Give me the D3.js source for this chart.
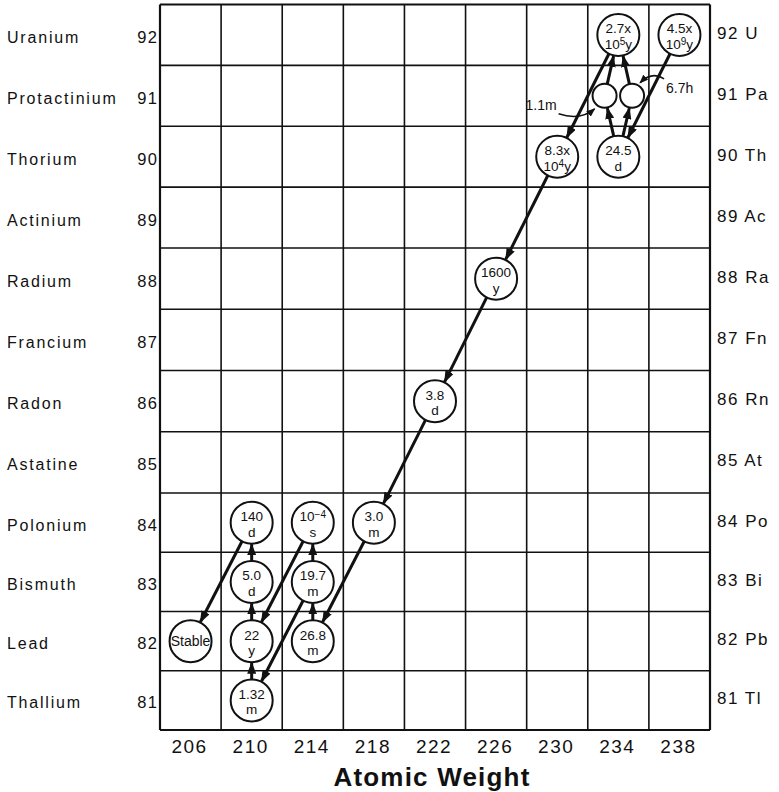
<!DOCTYPE html>
<html>
<head>
<meta charset="utf-8">
<script src="https://cdn.jsdelivr.net/npm/d3@7"></script>
<style>
  body { margin: 0; background: #fff; }
  text { font-family: "Liberation Sans", Arial, sans-serif; fill: #111; }
</style>
</head>
<body>
<div id="chart-area"></div>
<script>
// Datos
const elementNames = ["Uranium", "Protactinium", "Thorium", "Actinium", "Radium", "Francium",
                      "Radon", "Astatine", "Polonium", "Bismuth", "Lead", "Thallium"];
const atomicNumbers = [92, 91, 90, 89, 88, 87, 86, 85, 84, 83, 82, 81];
const symbols = ["U", "Pa", "Th", "Ac", "Ra", "Fn", "Rn", "At", "Po", "Bi", "Pb", "Tl"];
const weightTicks = [206, 210, 214, 218, 222, 226, 230, 234, 238];

// iso: -1 / +1 para los dos estados del Pa-234 (metaestable y fundamental)
const isotopes = [
    { id: "U238",   A: 238, Z: 92, iso: 0,  top: "4.5x",    bottom: "10^9^y" },
    { id: "Th234",  A: 234, Z: 90, iso: 0,  top: "24.5",    bottom: "d" },
    { id: "Pa234m", A: 234, Z: 91, iso: -1, top: "",        bottom: "" },
    { id: "Pa234",  A: 234, Z: 91, iso: 1,  top: "",        bottom: "" },
    { id: "U234",   A: 234, Z: 92, iso: 0,  top: "2.7x",    bottom: "10^5^y" },
    { id: "Th230",  A: 230, Z: 90, iso: 0,  top: "8.3x",    bottom: "10^4^y" },
    { id: "Ra226",  A: 226, Z: 88, iso: 0,  top: "1600",    bottom: "y" },
    { id: "Rn222",  A: 222, Z: 86, iso: 0,  top: "3.8",     bottom: "d" },
    { id: "Po218",  A: 218, Z: 84, iso: 0,  top: "3.0",     bottom: "m" },
    { id: "Pb214",  A: 214, Z: 82, iso: 0,  top: "26.8",    bottom: "m" },
    { id: "Bi214",  A: 214, Z: 83, iso: 0,  top: "19.7",    bottom: "m" },
    { id: "Po214",  A: 214, Z: 84, iso: 0,  top: "10^\u22124^", bottom: "s" },
    { id: "Tl210",  A: 210, Z: 81, iso: 0,  top: "1.32",    bottom: "m" },
    { id: "Pb210",  A: 210, Z: 82, iso: 0,  top: "22",      bottom: "y" },
    { id: "Bi210",  A: 210, Z: 83, iso: 0,  top: "5.0",     bottom: "d" },
    { id: "Po210",  A: 210, Z: 84, iso: 0,  top: "140",     bottom: "d" },
    { id: "Pb206",  A: 206, Z: 82, iso: 0,  top: "Stable",  bottom: "" }
];

const decays = [
    ["U238", "Th234"], ["Th234", "Pa234m"], ["Th234", "Pa234"],
    ["Pa234m", "U234"], ["Pa234", "U234"], ["U234", "Th230"],
    ["Th230", "Ra226"], ["Ra226", "Rn222"], ["Rn222", "Po218"],
    ["Po218", "Pb214"], ["Pb214", "Bi214"], ["Bi214", "Po214"],
    ["Bi214", "Tl210"], ["Po214", "Pb210"], ["Tl210", "Pb210"],
    ["Pb210", "Bi210"], ["Bi210", "Po210"], ["Po210", "Pb206"]
];

const callouts = [
    { id: "Pa234m", text: "1.1m" },
    { id: "Pa234",  text: "6.7h" }
];

// SVG
const svg = d3.select("#chart-area")
    .append("svg")
    .attr("width", 779)
    .attr("height", 792);

svg.append("rect").attr("width", 779).attr("height", 792).attr("fill", "#fff");

// Escalas (la rejilla dibujada a mano no es del todo regular)
const x = d3.scaleLinear().domain([204, 240]).range([160, 710]);
const y = d3.scaleLinear().domain([92.5, 88.5, 84.5, 80.5]).range([4.5, 248, 493, 730]);

// Rejilla
const grid = svg.append("g").attr("stroke", "#111").attr("fill", "none");
d3.range(204, 241, 4).forEach(v => {
    grid.append("line")
        .attr("x1", x(v)).attr("x2", x(v))
        .attr("y1", y(92.5)).attr("y2", y(80.5))
        .attr("stroke-width", (v === 204 || v === 240) ? 2.2 : 1.6);
});
d3.range(0, 13).forEach(i => {
    const v = 92.5 - i;
    grid.append("line")
        .attr("x1", x(204)).attr("x2", x(240))
        .attr("y1", y(v)).attr("y2", y(v))
        .attr("stroke-width", (i === 0 || i === 12) ? 2.2 : 1.6);
});

// Etiquetas de la izquierda
svg.append("g").selectAll("text.name")
    .data(elementNames)
    .enter()
    .append("text")
    .attr("x", 7)
    .attr("y", (d, i) => y(atomicNumbers[i]) + 8)
    .attr("font-size", 16)
    .attr("letter-spacing", 1.8)
    .text(d => d);

svg.append("g").selectAll("text.z")
    .data(atomicNumbers)
    .enter()
    .append("text")
    .attr("x", 158.5)
    .attr("y", d => y(d) + 8)
    .attr("font-size", 16.5)
    .attr("letter-spacing", 1.5)
    .attr("text-anchor", "end")
    .text(d => d);

// Etiquetas de la derecha
svg.append("g").selectAll("text.sym")
    .data(atomicNumbers)
    .enter()
    .append("text")
    .attr("x", 717)
    .attr("y", d => y(d) + 4)
    .attr("font-size", 17)
    .attr("letter-spacing", 1.5)
    .text((d, i) => d + " " + symbols[i]);

// Eje X
svg.append("g").selectAll("text.tick")
    .data(weightTicks)
    .enter()
    .append("text")
    .attr("x", d => x(d) - 1)
    .attr("y", 753)
    .attr("font-size", 19)
    .attr("letter-spacing", 1.5)
    .attr("text-anchor", "middle")
    .text(d => d);

svg.append("text")
    .attr("x", 432)
    .attr("y", 786)
    .attr("font-size", 26)
    .attr("font-weight", "bold")
    .attr("letter-spacing", 1.2)
    .attr("text-anchor", "middle")
    .text("Atomic Weight");

// Flechas
const defs = svg.append("defs");
defs.append("marker")
    .attr("id", "arrow")
    .attr("markerUnits", "userSpaceOnUse")
    .attr("markerWidth", 12).attr("markerHeight", 9)
    .attr("refX", 11).attr("refY", 4.5)
    .attr("orient", "auto")
    .append("path").attr("d", "M0,0 L12,4.5 L0,9 Z").attr("fill", "#111");
defs.append("marker")
    .attr("id", "arrow-small")
    .attr("markerUnits", "userSpaceOnUse")
    .attr("markerWidth", 9).attr("markerHeight", 7)
    .attr("refX", 8).attr("refY", 3.5)
    .attr("orient", "auto")
    .append("path").attr("d", "M0,0 L9,3.5 L0,7 Z").attr("fill", "#111");

const nodeX = d => x(d.A + d.iso * 0.9);
const nodeY = d => y(d.Z);
const nodeR = d => d.iso ? 12 : 21;
const byId = new Map(isotopes.map(d => [d.id, d]));

svg.append("g").selectAll("line.decay")
    .data(decays)
    .enter()
    .append("line")
    .each(function (pair) {
        const s = byId.get(pair[0]), t = byId.get(pair[1]);
        const dx = nodeX(t) - nodeX(s), dy = nodeY(t) - nodeY(s);
        const len = Math.hypot(dx, dy);
        const ux = dx / len, uy = dy / len;
        d3.select(this)
            .attr("x1", nodeX(s) + ux * nodeR(s))
            .attr("y1", nodeY(s) + uy * nodeR(s))
            .attr("x2", nodeX(t) - ux * (nodeR(t) + 0.5))
            .attr("y2", nodeY(t) - uy * (nodeR(t) + 0.5));
    })
    .attr("stroke", "#111")
    .attr("stroke-width", 3)
    .attr("marker-end", "url(#arrow)");

// Círculos
const nodes = svg.append("g").selectAll("g.node")
    .data(isotopes)
    .enter()
    .append("g")
    .attr("transform", d => `translate(${nodeX(d)},${nodeY(d)})`);

nodes.append("circle")
    .attr("r", nodeR)
    .attr("fill", "#fff")
    .attr("stroke", "#111")
    .attr("stroke-width", 2);

// texto con superíndices marcados entre "^"
function richText(sel, str) {
    const parts = str.split("^");
    let raised = false;
    parts.forEach((p, i) => {
        const isSup = i % 2 === 1;
        if (!p) return;
        const ts = sel.append("tspan").text(p);
        if (isSup) { ts.attr("dy", -3.5).attr("font-size", 10); raised = true; }
        else if (raised) { ts.attr("dy", 3.5); raised = false; }
    });
}

nodes.each(function (d) {
    const g = d3.select(this);
    if (!d.top) return;
    if (!d.bottom) {
        g.append("text")
            .attr("y", 5)
            .attr("font-size", 14)
            .attr("text-anchor", "middle")
            .text(d.top);
        return;
    }
    const t1 = g.append("text")
        .attr("y", -1.5)
        .attr("font-size", 13.5)
        .attr("text-anchor", "middle");
    richText(t1, d.top);
    const t2 = g.append("text")
        .attr("y", 14)
        .attr("font-size", 13.5)
        .attr("text-anchor", "middle");
    richText(t2, d.bottom);
});

// Anotaciones del Pa-234
callouts.forEach(c => {
    const d = byId.get(c.id);
    const cx = nodeX(d), cy = nodeY(d);
    const left = d.iso < 0;
    svg.append("path")
        .attr("d", left
            ? `M${cx - 46},${cy + 18} Q${cx - 24},${cy + 25} ${cx - 10},${cy + 13}`
            : `M${cx + 32},${cy - 17} Q${cx + 20},${cy - 25} ${cx + 8},${cy - 13}`)
        .attr("fill", "none")
        .attr("stroke", "#111")
        .attr("stroke-width", 1.5)
        .attr("marker-end", "url(#arrow-small)");
    svg.append("text")
        .attr("x", left ? cx - 48 : cx + 34)
        .attr("y", left ? cy + 14 : cy - 3)
        .attr("font-size", 14)
        .attr("text-anchor", left ? "end" : "start")
        .text(c.text);
});
</script>
</body>
</html>
